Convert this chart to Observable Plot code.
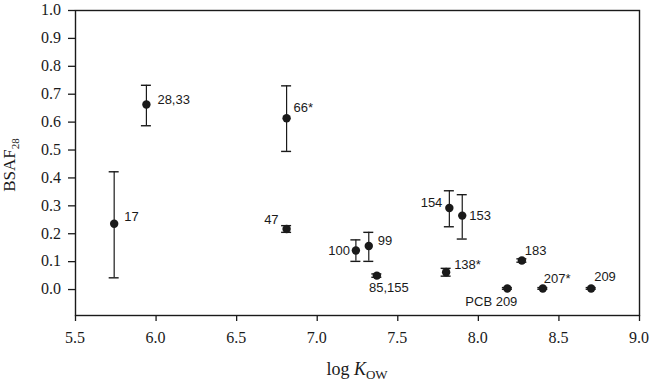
<!DOCTYPE html>
<html>
<head>
<meta charset="utf-8">
<script src="https://cdn.jsdelivr.net/npm/d3@7"></script>
<script src="https://cdn.jsdelivr.net/npm/@observablehq/plot@0.6"></script>
<style>
  body { margin: 0; background: #fff; }
  #chart { width: 650px; height: 390px; }
</style>
</head>
<body>
<div id="chart"></div>
<script>
// ---- data ----
const congeners = ["17", "28,33", "66*", "47", "100", "99", "154", "153", "183", "138*", "85,155", "PCB 209", "207*", "209"];
const logKow    = [5.74, 5.94, 6.81, 6.81, 7.24, 7.32, 7.82, 7.90, 8.27, 7.80, 7.37, 8.18, 8.40, 8.70];
const bsaf      = [0.236, 0.663, 0.614, 0.217, 0.140, 0.156, 0.292, 0.265, 0.104, 0.062, 0.050, 0.004, 0.004, 0.004];
const errLow    = [0.042, 0.587, 0.495, 0.205, 0.101, 0.101, 0.225, 0.181, 0.098, 0.048, 0.044, 0.001, 0.001, 0.001];
const errHigh   = [0.422, 0.732, 0.730, 0.229, 0.178, 0.205, 0.354, 0.340, 0.110, 0.076, 0.056, 0.007, 0.007, 0.007];
const xTicks = [5.5, 6.0, 6.5, 7.0, 7.5, 8.0, 8.5, 9.0];
const yTicks = [0.0, 0.1, 0.2, 0.3, 0.4, 0.5, 0.6, 0.7, 0.8, 0.9, 1.0];

// label placement (layout only: pixel offsets relative to each point)
const labelPlacement = {
  "17":      {dx: 10, dy: -7,  anchor: "start"},
  "28,33":   {dx: 11, dy: -5,  anchor: "start"},
  "66*":     {dx: 7,  dy: -10, anchor: "start"},
  "47":      {dx: -8, dy: -9,  anchor: "end"},
  "100":     {dx: -6, dy: 0,   anchor: "end"},
  "99":      {dx: 9,  dy: -5,  anchor: "start"},
  "154":     {dx: -7, dy: -5,  anchor: "end"},
  "153":     {dx: 7,  dy: 0,   anchor: "start"},
  "183":     {dx: 3,  dy: -10, anchor: "start"},
  "138*":    {dx: 8,  dy: -7,  anchor: "start"},
  "85,155":  {dx: 12, dy: 12,  anchor: "middle"},
  "PCB 209": {dx: 10, dy: 13,  anchor: "end"},
  "207*":    {dx: 1,  dy: -10, anchor: "start"},
  "209":     {dx: 3,  dy: -12, anchor: "start"}
};

const data = congeners.map((c, i) => ({label: c, x: logKow[i], y: bsaf[i], lo: errLow[i], hi: errHigh[i]}));

const ink = "#1a1a1a";
const serif = "Liberation Serif, Times New Roman, serif";
const sans = "Liberation Sans, Arial, sans-serif";
const fmt = d3.format(".1f");

const labelMarks = data.map(d => {
  const p = labelPlacement[d.label];
  return Plot.text([d], {x: "x", y: "y", text: "label", dx: p.dx, dy: p.dy, textAnchor: p.anchor,
    fill: ink, fontSize: 13, fontFamily: sans});
});

const chart = Plot.plot({
  width: 650,
  height: 390,
  marginLeft: 75,
  marginRight: 11,
  marginTop: 10,
  marginBottom: 75,
  style: {background: "#fff", color: ink},
  x: {domain: [5.5, 9.0]},
  y: {domain: [-0.093, 1.0]},
  marks: [
    Plot.axisX({ticks: xTicks, tickFormat: () => "", tickSize: 6, label: null, stroke: ink, strokeWidth: 1.3}),
    Plot.axisY({ticks: yTicks, tickFormat: () => "", tickSize: 7, label: null, stroke: ink, strokeWidth: 1.3}),
    Plot.frame({stroke: ink, strokeWidth: 1.4}),
    Plot.ruleX(data, {x: "x", y1: "lo", y2: "hi", stroke: ink, strokeWidth: 1.2}),
    Plot.ruleY(data, {y: "lo", x1: "x", x2: "x", insetLeft: -5, insetRight: -5, stroke: ink, strokeWidth: 1.4}),
    Plot.ruleY(data, {y: "hi", x1: "x", x2: "x", insetLeft: -5, insetRight: -5, stroke: ink, strokeWidth: 1.4}),
    Plot.dot(data, {x: "x", y: "y", r: 4.2, fill: ink, stroke: null}),
    ...labelMarks
  ]
});

document.getElementById("chart").appendChild(chart);

const svg = d3.select(chart);
const xs = chart.scale("x");
const ys = chart.scale("y");

// serif tick labels placed with Plot's own scales
const xLab = svg.append("g").attr("font-family", serif).attr("font-size", 16).attr("fill", ink).attr("text-anchor", "middle");
xTicks.forEach(v => {
  xLab.append("text").attr("x", xs.apply(v)).attr("y", 343).text(fmt(v));
});
const yLab = svg.append("g").attr("font-family", serif).attr("font-size", 16).attr("fill", ink).attr("text-anchor", "end");
yTicks.forEach(v => {
  yLab.append("text").attr("x", 61).attr("y", ys.apply(v) + 5.3).text(fmt(v));
});

// axis titles with subscripts
const xt = svg.append("text")
  .attr("x", 357).attr("y", 375)
  .attr("text-anchor", "middle")
  .attr("font-family", serif).attr("font-size", 18).attr("fill", ink);
xt.append("tspan").text("log ");
xt.append("tspan").attr("font-style", "italic").text("K");
xt.append("tspan").attr("font-size", 13).attr("dy", 4).text("OW");

const yt = svg.append("text")
  .attr("transform", "translate(15,165) rotate(-90)")
  .attr("text-anchor", "middle")
  .attr("font-family", serif).attr("font-size", 17).attr("fill", ink);
yt.append("tspan").text("BSAF");
yt.append("tspan").attr("font-size", 11).attr("dy", 4).text("28");
</script>
</body>
</html>
